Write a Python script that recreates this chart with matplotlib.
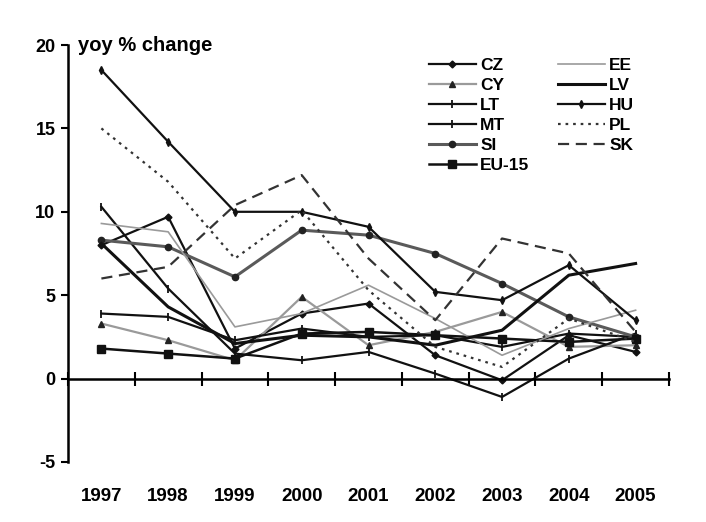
import matplotlib
matplotlib.use("Agg")
import matplotlib.pyplot as plt
from matplotlib.transforms import blended_transform_factory

plt.rcParams['font.family'] = ['Liberation Sans', 'DejaVu Sans']
plt.rcParams['font.weight'] = 'bold'

years = ['1997', '1998', '1999', '2000', '2001', '2002', '2003', '2004', '2005']

CZ = [8.0, 9.7, 1.8, 3.9, 4.5, 1.4, -0.1, 2.6, 1.6]
CY = [3.3, 2.3, 1.1, 4.9, 2.0, 2.8, 4.0, 1.9, 2.0]
LT = [10.3, 5.4, 1.5, 1.1, 1.6, 0.3, -1.1, 1.2, 2.7]
MT = [3.9, 3.7, 2.3, 3.0, 2.5, 2.6, 1.9, 2.7, 2.5]
SI = [8.3, 7.9, 6.1, 8.9, 8.6, 7.5, 5.7, 3.7, 2.5]
EU15 = [1.8, 1.5, 1.2, 2.7, 2.8, 2.6, 2.4, 2.2, 2.4]
EE = [9.3, 8.8, 3.1, 3.9, 5.6, 3.6, 1.4, 3.0, 4.1]
LV = [8.1, 4.3, 2.1, 2.6, 2.5, 2.0, 2.9, 6.2, 6.9]
HU = [18.5, 14.2, 10.0, 10.0, 9.1, 5.2, 4.7, 6.8, 3.5]
PL = [15.0, 11.8, 7.2, 10.1, 5.3, 1.9, 0.7, 3.6, 2.2]
SK = [6.0, 6.7, 10.4, 12.2, 7.2, 3.5, 8.4, 7.5, 2.8]

y_ticks = [-5, 0, 5, 10, 15, 20]

fig = plt.figure(figsize=(7.06, 5.22), dpi=100)
ax = fig.add_axes([68/706, 1-462/522, (669-68)/706, (462-45)/522])

x = list(range(len(years)))
gray = '#9a9a9a'
styles = [
    ('CZ', CZ, dict(color='#111111', lw=1.6, marker='D', ms=3.5)),
    ('CY', CY, dict(color=gray, lw=1.6, marker='^', ms=5, mfc='#222222', mec='#222222')),
    ('LT', LT, dict(color='#111111', lw=1.6, marker='|', ms=6, mew=1.3)),
    ('MT', MT, dict(color='#111111', lw=1.6, marker='|', ms=6, mew=1.3)),
    ('SI', SI, dict(color='#5a5a5a', lw=2.2, marker='o', ms=4.5, mfc='#222222', mec='#222222')),
    ('EU-15', EU15, dict(color='#111111', lw=1.8, marker='s', ms=6)),
    ('EE', EE, dict(color=gray, lw=1.2)),
    ('LV', LV, dict(color='#111111', lw=2.2)),
    ('HU', HU, dict(color='#111111', lw=1.6, marker='d', ms=4)),
    ('PL', PL, dict(color='#333333', lw=1.6, linestyle=(0, (1.2, 2.2)))),
    ('SK', SK, dict(color='#333333', lw=1.6, linestyle=(0, (5, 3)))),
]
handles = []
for name, vals, st in styles:
    h, = ax.plot(x, vals, label=name, **st)
    handles.append(h)

ax.set_xlim(-0.5, 8.5)
ax.set_ylim(-5, 20)
for s in ['top', 'right']:
    ax.spines[s].set_visible(False)
ax.spines['bottom'].set_position(('data', 0))
ax.spines['bottom'].set_linewidth(1.8)
ax.spines['left'].set_linewidth(1.8)
ax.set_xticks([i - 0.5 for i in range(len(years) + 1)])
ax.set_xticklabels([])
ax.tick_params(axis='x', direction='inout', length=10, width=1.5)
ax.set_yticks(y_ticks)
ax.set_yticklabels([str(v) for v in y_ticks])
ax.tick_params(axis='y', direction='out', length=5, width=1.5, labelsize=13, pad=4)

tr = blended_transform_factory(ax.transData, ax.transAxes)
for i, yr in enumerate(years):
    ax.text(i, -0.082, yr, transform=tr, ha='center', va='center',
            fontsize=13.5, fontweight='bold')

ax.text(0.017, 1.0, 'yoy % change', transform=ax.transAxes, ha='left', va='center',
        fontsize=14.5, fontweight='bold')

leg = fig.legend(handles=handles, ncol=2, loc='upper left',
                 bbox_to_anchor=(422/706, 1-51/522), frameon=False,
                 fontsize=12.5, handlelength=2.7, handletextpad=0.25,
                 columnspacing=1.65, labelspacing=0.28, borderaxespad=0)

fig.savefig('out.png', dpi=100)
